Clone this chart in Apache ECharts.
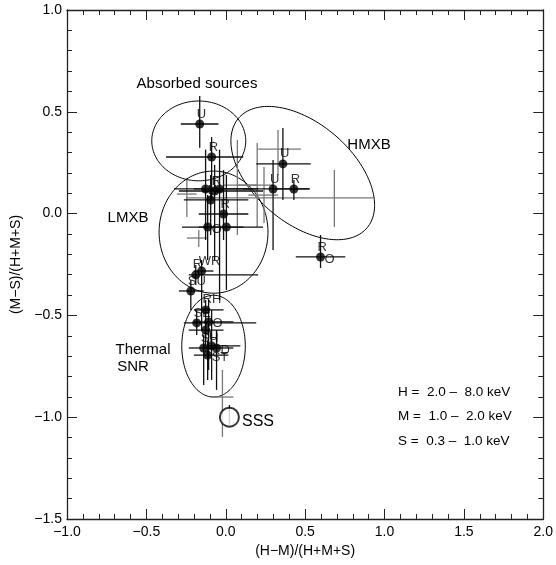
<!DOCTYPE html>
<html>
<head>
<meta charset="utf-8">
<script src="https://cdn.jsdelivr.net/npm/echarts@6/dist/echarts.min.js"></script>
<style>html,body{margin:0;background:#fff}#main{width:556px;height:565px}</style>
</head>
<body>
<div id="main"></div>
<script>
// hardness ratio diagram: (H-M)/(H+M+S) vs (M-S)/(H+M+S)

// axes
var xTicks = [-1.0, -0.5, 0.0, 0.5, 1.0, 1.5, 2.0];
var yTicks = [-1.5, -1.0, -0.5, 0.0, 0.5, 1.0];

// sources with a dot
var hrX  = [-0.164, -0.089, 0.360, 0.298, 0.429, 0.597, -0.127, -0.070, -0.039, -0.095, -0.014, -0.114, 0.004, -0.189, -0.152, -0.220, -0.127, -0.183, -0.108, -0.127, -0.139, -0.114, -0.058, -0.089];
var hrY  = [0.440, 0.278, 0.244, 0.121, 0.121, -0.213, 0.121, 0.111, 0.121, 0.067, -0.002, -0.066, -0.066, -0.301, -0.282, -0.380, -0.473, -0.537, -0.532, -0.572, -0.660, -0.695, -0.660, -0.650];
var hrXLo = [-0.283, -0.376, 0.192, 0.110, 0.316, 0.441, -0.326, -0.295, -0.201, -0.264, -0.170, -0.276, -0.170, -0.233, -0.201, -0.295, -0.201, -0.264, -0.201, -0.233, -0.233, -0.201, -0.139, -0.139];
var hrXHi = [-0.046, 0.110, 0.535, 0.528, 0.528, 0.753, 0.173, 0.235, 0.204, 0.142, 0.142, 0.110, 0.235, 0.204, -0.077, -0.139, -0.014, 0.192, 0.048, -0.014, -0.046, 0.017, 0.048, 0.092];
var hrYLo = [0.324, 0.067, 0.067, -0.179, 0.067, -0.267, -0.130, -0.228, -0.424, -0.105, -0.130, -0.228, -0.375, -0.351, -0.572, -0.473, -0.645, -0.596, -0.768, -0.624, -0.842, -0.817, -0.866, -0.817];
var hrYHi = [0.578, 0.376, 0.420, 0.263, 0.165, -0.105, 0.314, 0.239, 0.314, 0.190, 0.214, 0.091, 0.190, -0.253, -0.228, -0.326, -0.424, -0.473, -0.424, -0.523, -0.596, -0.624, -0.572, -0.473];
var tagTop  = ['U', 'R', 'U', 'U', 'R', 'R', '', 'R', '', 'H', 'R', '', '', 'R', 'WR', 'SU', 'RH', 'SE', '', '', 'SH', '', '', 'U'];
var tagSide = ['', '', '', '', '', 'O', '', '', '', '', '', 'O', '', '', '', '', '', '', 'O', '', '', 'ST', 'D', ''];

// error crosses without a dot
var crX   = [0.684, 0.198, 0.241, -0.245, -0.170, 0.073, 0.329, -0.021];
var crY   = [0.077, 0.140, 0.091, 0.096, -0.120, 0.140, 0.317, -0.901];
var crXLo = [-0.251, 0.079, 0.142, -0.308, -0.245, -0.014, 0.204, -0.089];
var crXHi = [0.940, 0.298, 0.329, -0.183, -0.120, 0.204, 0.473, 0.048];
var crYLo = [-0.066, -0.066, -0.046, -0.017, -0.164, -0.105, 0.190, -1.097];
var crYHi = [0.214, 0.347, 0.229, 0.165, -0.081, 0.361, 0.410, -0.768];

// supersoft source
var sssX = [0.023], sssY = [-1.0], sssYLo = [-1.038], sssYHi = [-0.94];

// class regions: centre + two half-axis vectors, data units
var regCx = [-0.170, 0.485, -0.077, -0.077];
var regCy = [0.357, 0.199, -0.091, -0.651];
var regUx = [0.296, 0.406, 0.343, 0.200];
var regUy = [0.0, -0.268, 0.0, 0.0];
var regVx = [0.0, -0.200, 0.0, 0.0];
var regVy = [0.196, -0.188, 0.300, 0.250];

var FONT = '"Liberation Sans", Arial, sans-serif';

function fmt(v) {
  return (v < 0 ? '\u2212' : '') + Math.abs(v).toFixed(1);
}

function barData(x, y, xl, xh, yl, yh) {
  return x.map(function (v, i) { return [v, y[i], xl[i], xh[i], yl[i], yh[i]]; });
}

function renderBar(params, api) {
  var x = api.value(0), y = api.value(1);
  var l = api.coord([api.value(2), y]);
  var r = api.coord([api.value(3), y]);
  var b = api.coord([x, api.value(4)]);
  var t = api.coord([x, api.value(5)]);
  var st = { stroke: api.visual('color'), lineWidth: 1.3 };
  return {
    type: 'group',
    children: [
      { type: 'line', shape: { x1: l[0], y1: l[1], x2: r[0], y2: r[1] }, style: st },
      { type: 'line', shape: { x1: b[0], y1: b[1], x2: t[0], y2: t[1] }, style: st }
    ]
  };
}

function renderRegion(params, api) {
  var cx = api.value(0), cy = api.value(1);
  var ux = api.value(2), uy = api.value(3), vx = api.value(4), vy = api.value(5);
  var pts = [];
  for (var k = 0; k <= 160; k++) {
    var a = k / 160 * Math.PI * 2;
    pts.push(api.coord([cx + ux * Math.cos(a) + vx * Math.sin(a), cy + uy * Math.cos(a) + vy * Math.sin(a)]));
  }
  return { type: 'polyline', shape: { points: pts }, style: { fill: null, stroke: '#000', lineWidth: 1 } };
}

var chart = echarts.init(document.getElementById('main'));

function axisCommon() {
  return {
    axisLine: { onZero: false, lineStyle: { color: '#222', width: 1.3 } },
    axisTick: { inside: true, length: 10, lineStyle: { color: '#222', width: 1 } },
    minorTick: { show: true, splitNumber: 5, length: 5, lineStyle: { color: '#222', width: 1 } },
    splitLine: { show: false }
  };
}

function xAxisOpt(pos, labels) {
  return Object.assign({
    type: 'value', position: pos,
    min: xTicks[0], max: xTicks[xTicks.length - 1], interval: 0.5,
    axisLabel: { show: labels, formatter: fmt, color: '#000', fontSize: 14, fontFamily: FONT, margin: 6 }
  }, axisCommon());
}
function yAxisOpt(pos, labels) {
  return Object.assign({
    type: 'value', position: pos,
    min: yTicks[0], max: yTicks[yTicks.length - 1], interval: 0.5,
    axisLabel: { show: labels, formatter: fmt, color: '#000', fontSize: 14, fontFamily: FONT, margin: 5 }
  }, axisCommon());
}

var xa0 = xAxisOpt('bottom', true);
xa0.name = '(H\u2212M)/(H+M+S)';
xa0.nameLocation = 'middle';
xa0.nameGap = 22;
xa0.nameTextStyle = { fontSize: 14, fontFamily: FONT, color: '#000' };
var ya0 = yAxisOpt('left', true);
ya0.name = '(M\u2212S)/(H+M+S)';
ya0.nameLocation = 'middle';
ya0.nameGap = 44;
ya0.nameTextStyle = { fontSize: 14, fontFamily: FONT, color: '#000' };

function tagData(tags) {
  var out = [];
  tags.forEach(function (t, i) { if (t) out.push([hrX[i], hrY[i], t]); });
  return out;
}

var textStyle = { font: '15px ' + FONT, fill: '#000', textAlign: 'center', textVerticalAlign: 'middle', align: 'center', verticalAlign: 'middle' };
function note(x, y, s, extra) {
  return { type: 'text', x: x, y: y, silent: true, style: Object.assign({}, textStyle, { text: s }, extra || {}) };
}

chart.setOption({
  animation: false,
  grid: { left: 67, right: 6, top: 10, bottom: 46 },
  xAxis: [xa0, xAxisOpt('top', false)],
  yAxis: [ya0, yAxisOpt('right', false)],
  series: [
    {
      type: 'custom', renderItem: renderRegion, silent: true, clip: true,
      data: regCx.map(function (v, i) { return [v, regCy[i], regUx[i], regUy[i], regVx[i], regVy[i]]; })
    },
    {
      type: 'custom', renderItem: renderBar, silent: true, clip: true,
      itemStyle: { color: '#777' },
      data: barData(crX, crY, crXLo, crXHi, crYLo, crYHi)
    },
    {
      type: 'custom', renderItem: renderBar, silent: true, clip: true,
      itemStyle: { color: '#111' },
      data: barData(hrX, hrY, hrXLo, hrXHi, hrYLo, hrYHi).concat(barData(sssX, sssY, sssX, sssX, sssYLo, sssYHi))
    },
    {
      type: 'scatter', symbol: 'circle', symbolSize: 9, silent: true,
      itemStyle: { color: '#000' },
      data: hrX.map(function (v, i) { return [v, hrY[i]]; })
    },
    {
      type: 'scatter', symbol: 'emptyCircle', symbolSize: 19, silent: true,
      itemStyle: { color: '#000', borderColor: '#000', borderWidth: 1 },
      data: sssX.map(function (v, i) { return [v, sssY[i]]; })
    },
    {
      type: 'scatter', symbolSize: 0, silent: true,
      label: {
        show: true, position: 'inside', align: 'left', offset: [-3, -10],
        formatter: function (p) { return p.value[2]; },
        color: '#000', fontSize: 13, fontFamily: FONT
      },
      data: tagData(tagTop)
    },
    {
      type: 'scatter', symbolSize: 0, silent: true,
      label: {
        show: true, position: 'inside', align: 'left', offset: [4, 2],
        formatter: function (p) { return p.value[2]; },
        color: '#000', fontSize: 13, fontFamily: FONT
      },
      data: tagData(tagSide)
    }
  ],
  graphic: [
    note(197, 84, 'Absorbed sources'),
    note(369, 145, 'HMXB'),
    note(128, 218, 'LMXB'),
    note(143, 350, 'Thermal'),
    note(133, 367, 'SNR'),
    note(242, 422, 'SSS', { textAlign: 'left', align: 'left', font: '16px ' + FONT }),
    note(398, 392, 'H =  2.0 \u2013  8.0 keV', { textAlign: 'left', align: 'left', font: '13.5px ' + FONT }),
    note(398, 416, 'M =  1.0 \u2013  2.0 keV', { textAlign: 'left', align: 'left', font: '13.5px ' + FONT }),
    note(398, 441, 'S =  0.3 \u2013  1.0 keV', { textAlign: 'left', align: 'left', font: '13.5px ' + FONT })
  ]
});
</script>
</body>
</html>
